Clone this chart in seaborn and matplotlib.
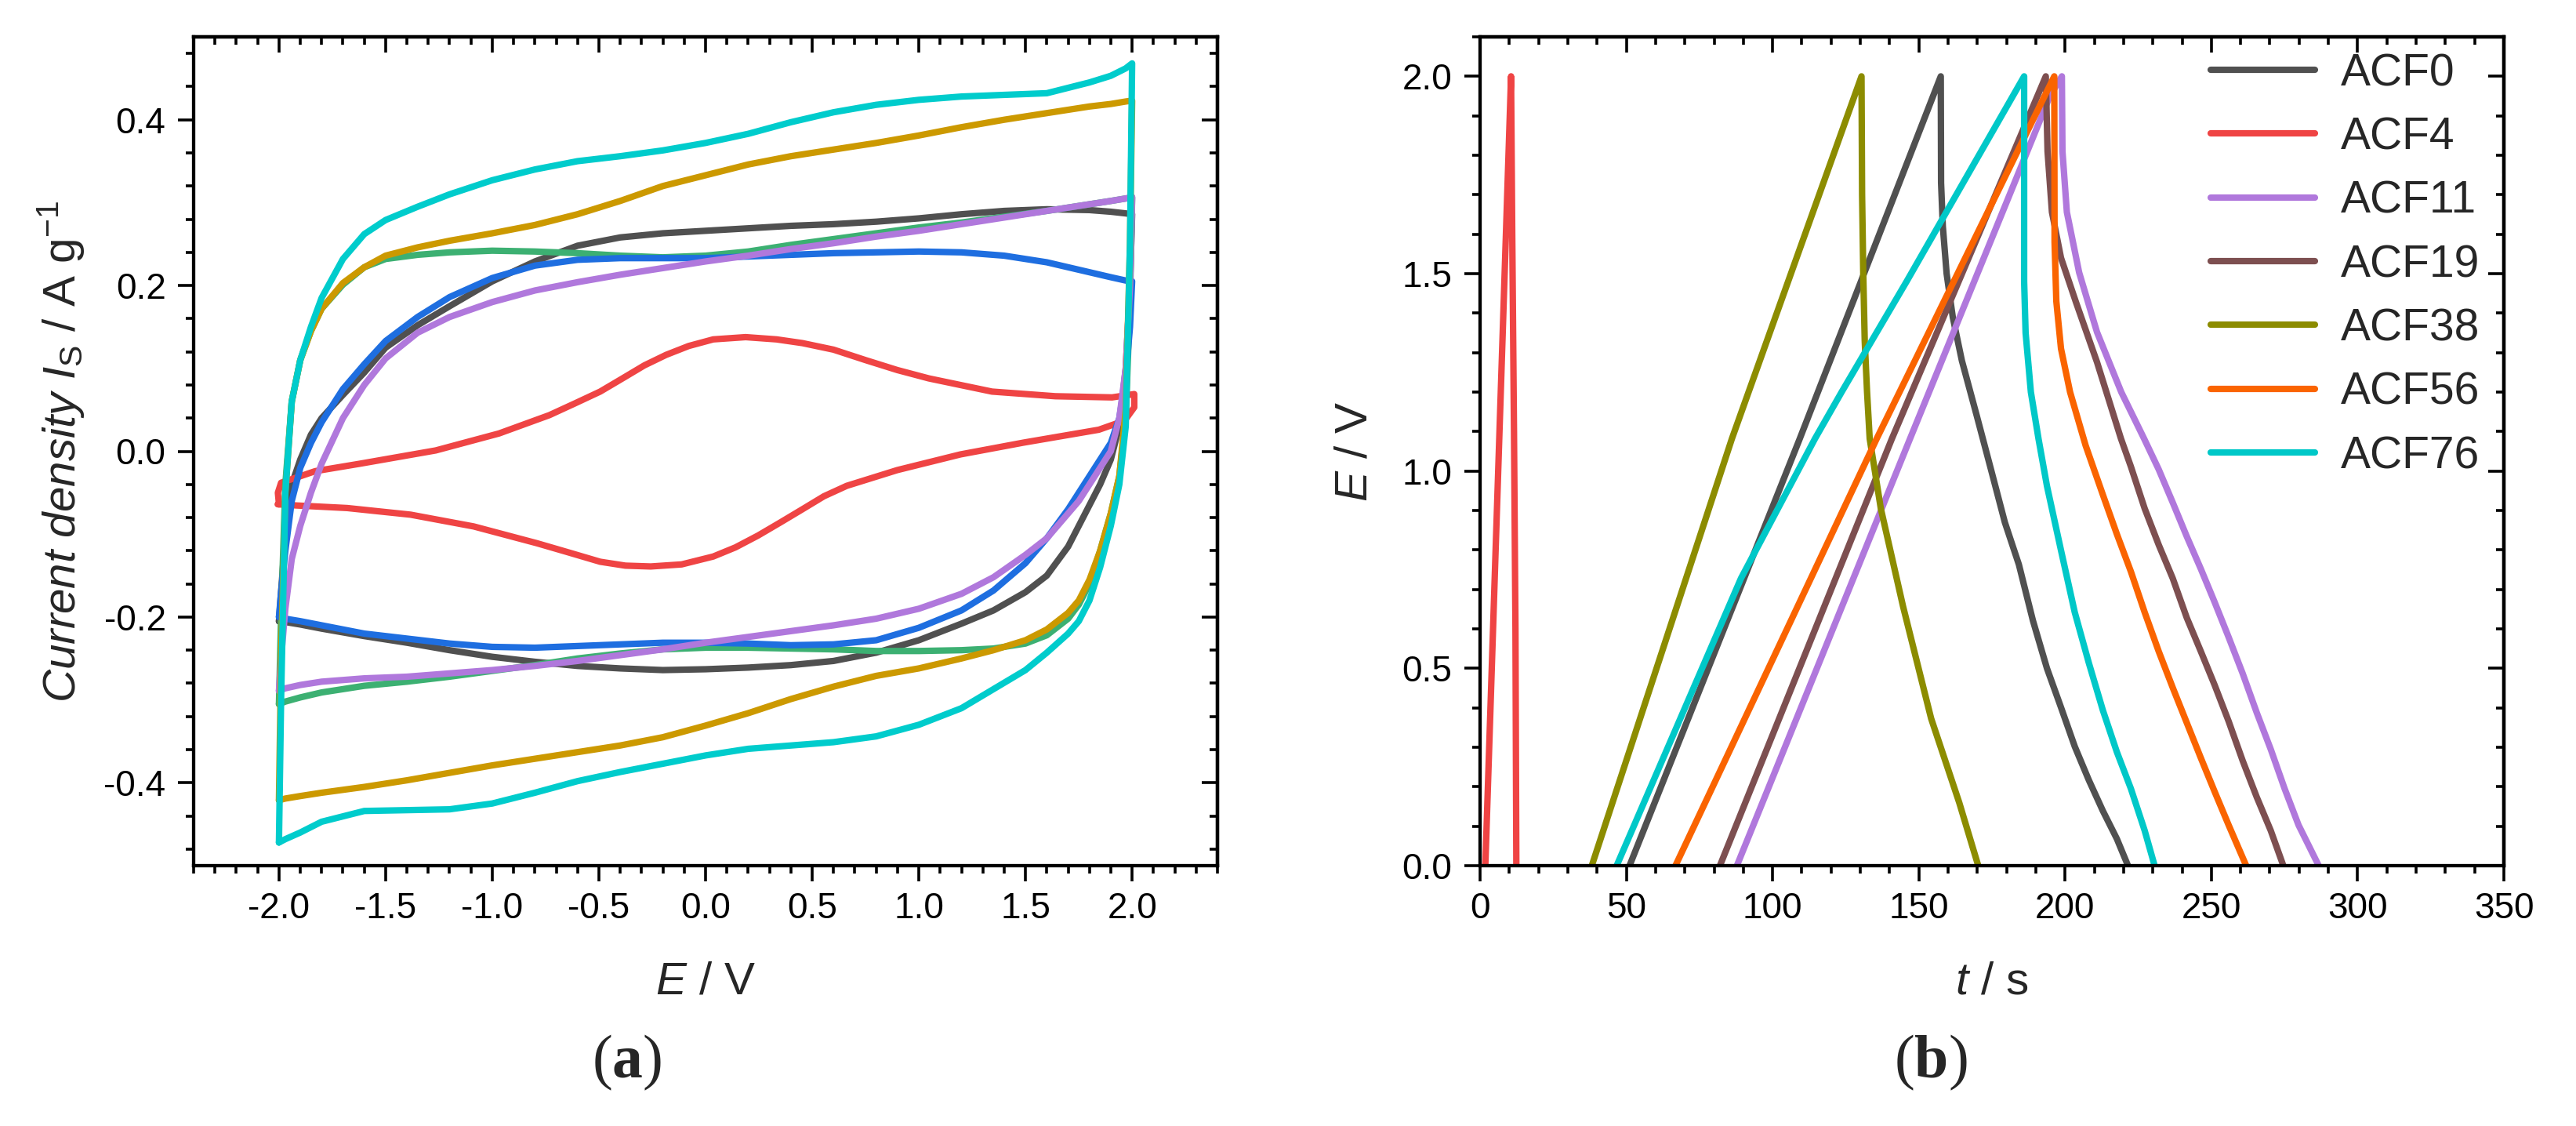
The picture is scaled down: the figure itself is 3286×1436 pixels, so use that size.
import numpy as np
import pandas as pd
import matplotlib
matplotlib.use("Agg")
import matplotlib.pyplot as plt
import seaborn as sns
from matplotlib.ticker import MultipleLocator, FormatStrFormatter

# ---------------- Panel (a): cyclic voltammograms ----------------
E_FWD = [-2.0, -1.99, -1.97, -1.94, -1.9, -1.85, -1.8, -1.7, -1.6, -1.5, -1.35, -1.2, -1.0, -0.8, -0.6,
         -0.4, -0.2, 0.0, 0.2, 0.4, 0.6, 0.8, 1.0, 1.2, 1.4, 1.6, 1.8, 1.9, 1.97, 2.0]
E_REV = [2.0, 1.99, 1.97, 1.94, 1.9, 1.85, 1.8, 1.75, 1.7, 1.6, 1.5, 1.35, 1.2, 1.0, 0.8, 0.6, 0.4, 0.2,
         0.0, -0.2, -0.4, -0.6, -0.8, -1.0, -1.2, -1.4, -1.6, -1.8, -1.9, -1.97, -2.0]

CV_GRAY_FWD = [-0.205, -0.17, -0.10, -0.04, -0.01, 0.02, 0.04, 0.068, 0.095, 0.125, 0.152, 0.175, 0.205, 0.229, 0.248,
               0.258, 0.263, 0.266, 0.269, 0.272, 0.274, 0.277, 0.281, 0.286, 0.290, 0.292, 0.291, 0.289, 0.287, 0.286]
CV_GRAY_REV = [0.286, 0.20, 0.10, 0.03, -0.01, -0.04, -0.065, -0.09, -0.115, -0.150, -0.170, -0.192, -0.208, -0.228,
               -0.243, -0.253, -0.258, -0.261, -0.263, -0.264, -0.262, -0.259, -0.254, -0.248, -0.240, -0.231, -0.223,
               -0.214, -0.209, -0.206, -0.205]

# red loop has its own, denser potential grid
E_RED_FWD = [-2.0, -2.005, -1.99, -1.83, -1.62, -1.265, -0.968, -0.732, -0.612, -0.494, -0.39, -0.287, -0.185, -0.079,
             0.036, 0.188, 0.333, 0.454, 0.6, 0.75, 0.899, 1.047, 1.343, 1.64, 1.906, 2.01]
CV_RED_FWD = [-0.064, -0.050, -0.038, -0.024, -0.015, 0.001, 0.0215, 0.0436, 0.0578, 0.072, 0.0878, 0.1036, 0.1163,
              0.127, 0.135, 0.1377, 0.135, 0.1305, 0.1226, 0.110, 0.098, 0.0879, 0.072, 0.0664, 0.065, 0.069]
E_RED_REV = [2.01, 2.01, 1.965, 1.844, 1.49, 1.195, 0.899, 0.662, 0.555, 0.454, 0.35, 0.246, 0.14, 0.036, -0.112,
             -0.257, -0.376, -0.494, -0.643, -0.79, -1.087, -1.383, -1.68, -1.918, -2.006]
CV_RED_REV = [0.069, 0.053, 0.037, 0.026, 0.0104, -0.0038, -0.0227, -0.0417, -0.0543, -0.070, -0.086, -0.1017,
              -0.116, -0.127, -0.1365, -0.139, -0.138, -0.1333, -0.122, -0.111, -0.0907, -0.0765, -0.0685, -0.0654,
              -0.064]

CV_GREEN_FWD = [-0.305, -0.20, -0.04, 0.06, 0.11, 0.145, 0.172, 0.201, 0.222, 0.232, 0.237, 0.240, 0.242, 0.241, 0.239,
                0.236, 0.234, 0.236, 0.241, 0.249, 0.256, 0.263, 0.270, 0.276, 0.283, 0.290, 0.298, 0.302, 0.305, 0.306]
CV_GREEN_REV = [0.306, 0.18, 0.04, -0.03, -0.075, -0.12, -0.16, -0.185, -0.202, -0.222, -0.232, -0.238, -0.240, -0.241,
                -0.241, -0.239, -0.238, -0.237, -0.237, -0.239, -0.244, -0.250, -0.258, -0.265, -0.272, -0.278, -0.283,
                -0.291, -0.297, -0.302, -0.305]

CV_BLUE_FWD = [-0.200, -0.17, -0.12, -0.06, -0.02, 0.01, 0.035, 0.075, 0.105, 0.133, 0.162, 0.186, 0.209, 0.224, 0.231,
               0.233, 0.233, 0.233, 0.235, 0.237, 0.239, 0.240, 0.241, 0.240, 0.236, 0.228, 0.216, 0.210, 0.206, 0.205]
CV_BLUE_REV = [0.205, 0.15, 0.09, 0.04, 0.01, -0.01, -0.03, -0.05, -0.07, -0.105, -0.135, -0.168, -0.192, -0.213, -0.228,
               -0.233, -0.234, -0.232, -0.231, -0.231, -0.233, -0.235, -0.237, -0.236, -0.232, -0.226, -0.220, -0.210,
               -0.205, -0.202, -0.200]

CV_PURPLE_FWD = [-0.289, -0.25, -0.19, -0.13, -0.09, -0.05, -0.015, 0.04, 0.08, 0.112, 0.143, 0.162, 0.180, 0.194, 0.204,
                 0.213, 0.221, 0.229, 0.236, 0.244, 0.251, 0.259, 0.266, 0.274, 0.282, 0.290, 0.298, 0.302, 0.305, 0.307]
CV_PURPLE_REV = [0.307, 0.20, 0.10, 0.04, 0.0, -0.02, -0.04, -0.06, -0.075, -0.105, -0.125, -0.152, -0.172, -0.190, -0.202,
                 -0.210, -0.217, -0.224, -0.231, -0.239, -0.246, -0.253, -0.259, -0.264, -0.268, -0.272, -0.274, -0.278,
                 -0.282, -0.286, -0.289]

CV_GOLD_FWD = [-0.421, -0.25, -0.05, 0.06, 0.11, 0.145, 0.172, 0.203, 0.222, 0.236, 0.246, 0.254, 0.263, 0.273, 0.286,
               0.302, 0.320, 0.333, 0.346, 0.356, 0.364, 0.372, 0.381, 0.391, 0.400, 0.408, 0.416, 0.419, 0.422, 0.423]
CV_GOLD_REV = [0.423, 0.25, 0.05, -0.03, -0.075, -0.12, -0.155, -0.18, -0.195, -0.215, -0.228, -0.240, -0.250, -0.262,
               -0.271, -0.284, -0.299, -0.316, -0.331, -0.345, -0.355, -0.363, -0.371, -0.379, -0.388, -0.397, -0.405,
               -0.412, -0.416, -0.419, -0.421]

CV_CYAN_FWD = [-0.472, -0.30, -0.05, 0.06, 0.11, 0.15, 0.185, 0.232, 0.262, 0.279, 0.295, 0.310, 0.327, 0.340, 0.350,
               0.356, 0.363, 0.372, 0.383, 0.397, 0.409, 0.418, 0.424, 0.428, 0.430, 0.432, 0.445, 0.453, 0.462, 0.468]
CV_CYAN_REV = [0.468, 0.25, 0.03, -0.04, -0.09, -0.14, -0.18, -0.205, -0.220, -0.243, -0.264, -0.287, -0.310, -0.330,
               -0.344, -0.351, -0.355, -0.359, -0.367, -0.377, -0.387, -0.398, -0.412, -0.425, -0.432, -0.433, -0.434,
               -0.447, -0.460, -0.468, -0.472]

CV_ORDER = ["gray", "red", "green", "blue", "purple", "gold", "cyan"]
CV_COLORS = {"gray": "#505050", "red": "#EF4444", "green": "#3CB072", "blue": "#1E6EE0",
             "purple": "#B078DC", "gold": "#CC9900", "cyan": "#00CCCC"}
CV_DATA = {"gray": (E_FWD, CV_GRAY_FWD, E_REV, CV_GRAY_REV),
           "red": (E_RED_FWD, CV_RED_FWD, E_RED_REV, CV_RED_REV),
           "green": (E_FWD, CV_GREEN_FWD, E_REV, CV_GREEN_REV),
           "blue": (E_FWD, CV_BLUE_FWD, E_REV, CV_BLUE_REV),
           "purple": (E_FWD, CV_PURPLE_FWD, E_REV, CV_PURPLE_REV),
           "gold": (E_FWD, CV_GOLD_FWD, E_REV, CV_GOLD_REV),
           "cyan": (E_FWD, CV_CYAN_FWD, E_REV, CV_CYAN_REV)}

# ---------------- Panel (b): galvanostatic charge/discharge ----------------
GCD_LABELS = ["ACF0", "ACF4", "ACF11", "ACF19", "ACF38", "ACF56", "ACF76"]
GCD_COLORS = ["#505050", "#EF4444", "#B078DC", "#7D4F50", "#8C8C00", "#FA6400", "#00C8C8"]

T_ACF0 = [51.1, 109.3, 157.5, 157.6, 158.2, 159.5, 161.6, 164.7, 169.8, 174.8, 179.4, 184.2, 189.0, 193.8, 198.6,
          203.3, 208.1, 212.9, 217.7, 221.5]
E_ACF0 = [0.0, 1.082, 2.0, 1.73, 1.62, 1.50, 1.39, 1.28, 1.14, 1.00, 0.870, 0.763, 0.621, 0.500, 0.401, 0.302, 0.217,
          0.139, 0.068, 0.0]

T_ACF4 = [1.8, 10.6, 11.0, 11.6, 12.1, 12.4]
E_ACF4 = [0.0, 2.0, 1.6, 1.1, 0.6, 0.0]

T_ACF11 = [87.8, 147.0, 194.8, 198.9, 199.1, 200.6, 204.8, 210.9, 219.2, 227.0, 232.0, 236.8, 241.6, 246.4, 251.1,
           255.9, 260.7, 265.5, 270.3, 275.0, 279.8, 286.7]
E_ACF11 = [0.0, 1.082, 1.95, 2.0, 1.81, 1.656, 1.503, 1.352, 1.2, 1.082, 1.004, 0.920, 0.834, 0.752, 0.668, 0.579,
           0.487, 0.388, 0.295, 0.196, 0.103, 0.0]

T_ACF19 = [82.0, 140.8, 193.4, 194.0, 195.5, 198.6, 203.7, 210.9, 219.1, 222.5, 227.2, 232.0, 236.8, 241.6, 246.4,
           251.1, 255.9, 260.7, 265.5, 270.3, 274.6]
E_ACF19 = [0.0, 1.082, 2.0, 1.81, 1.656, 1.54, 1.428, 1.276, 1.082, 1.011, 0.905, 0.813, 0.728, 0.628, 0.543, 0.458,
           0.366, 0.266, 0.174, 0.089, 0.0]

T_ACF38 = [38.2, 86.1, 130.4, 130.6, 131.0, 131.5, 132.3, 133.2, 137.0, 144.6, 154.2, 163.8, 170.3]
E_ACF38 = [0.0, 1.082, 2.0, 1.7, 1.50, 1.33, 1.2, 1.082, 0.905, 0.657, 0.373, 0.160, 0.0]

T_ACF56 = [66.8, 135.6, 196.3, 196.4, 197.0, 198.6, 201.7, 207.0, 212.9, 217.7, 222.5, 227.2, 232.0, 236.8, 241.6,
           246.4, 251.1, 255.9, 261.9]
E_ACF56 = [0.0, 1.082, 2.0, 1.58, 1.43, 1.31, 1.2, 1.065, 0.940, 0.840, 0.745, 0.642, 0.543, 0.451, 0.362, 0.273,
           0.188, 0.103, 0.0]

T_ACF76 = [46.7, 89.2, 114.5, 123.6, 145.8, 186.0, 186.0, 186.5, 188.3, 190.9, 193.8, 198.6, 203.3, 208.1, 212.9,
           217.7, 222.5, 227.2, 230.6]
E_ACF76 = [0.0, 0.728, 1.082, 1.20, 1.48, 2.0, 1.48, 1.35, 1.2, 1.082, 0.962, 0.799, 0.642, 0.514, 0.394, 0.288,
           0.195, 0.089, 0.0]

GCD_DATA = {"ACF0": (T_ACF0, E_ACF0), "ACF4": (T_ACF4, E_ACF4), "ACF11": (T_ACF11, E_ACF11),
            "ACF19": (T_ACF19, E_ACF19), "ACF38": (T_ACF38, E_ACF38), "ACF56": (T_ACF56, E_ACF56),
            "ACF76": (T_ACF76, E_ACF76)}

# ---------------- build tidy frames ----------------
cv_rows = []
for key in CV_ORDER:
    ef, i_f, er, i_r = CV_DATA[key]
    for e, i in zip(list(ef) + list(er), list(i_f) + list(i_r)):
        cv_rows.append({"E": e, "I": i, "curve": key})
df_cv = pd.DataFrame(cv_rows)

gcd_rows = []
for lab in GCD_LABELS:
    tt, ee = GCD_DATA[lab]
    for t, e in zip(tt, ee):
        gcd_rows.append({"t": t, "E": e, "sample": lab})
df_gcd = pd.DataFrame(gcd_rows)

# ---------------- style ----------------
sns.set_theme(style="ticks")
plt.rcParams["font.family"] = ["Liberation Sans", "DejaVu Sans"]
plt.rcParams.update({
    "axes.unicode_minus": False,
    "mathtext.fontset": "custom",
    "mathtext.rm": "Liberation Sans",
    "mathtext.it": "Liberation Sans:italic",
    "mathtext.bf": "Liberation Serif:bold",
    "axes.edgecolor": "black",
    "xtick.color": "black",
    "ytick.color": "black",
    "lines.solid_joinstyle": "round",
    "lines.solid_capstyle": "round",
})

W, H = 3287, 1436
fig = plt.figure(figsize=(W / 100, H / 100), dpi=100)
AX_B, AX_T = 1104, 47
axh = (AX_B - AX_T) / H
ax1 = fig.add_axes([247 / W, 1 - AX_B / H, 1306 / W, axh])
ax2 = fig.add_axes([1888 / W, 1 - AX_B / H, 1306 / W, axh])

LW = 5.9
SW = 3.1
TW = 2.6
MAJ, MIN = 14.5, 7.5
TICK_FS = 33
LABEL_FS = 42

sns.lineplot(data=df_cv, x="E", y="I", hue="curve", hue_order=CV_ORDER, palette=CV_COLORS,
             sort=False, estimator=None, linewidth=LW, legend=False, ax=ax1)
sns.lineplot(data=df_gcd, x="t", y="E", hue="sample", hue_order=GCD_LABELS,
             palette=dict(zip(GCD_LABELS, GCD_COLORS)),
             sort=False, estimator=None, linewidth=LW, legend=False, ax=ax2)


def style(ax, xlim, ylim, xmaj, xmin, ymaj, ymin, xfmt, yfmt):
    ax.set_xlim(*xlim)
    ax.set_ylim(*ylim)
    for s in ax.spines.values():
        s.set_linewidth(SW)
        s.set_color("black")
    ax.xaxis.set_major_locator(MultipleLocator(xmaj))
    ax.xaxis.set_minor_locator(MultipleLocator(xmin))
    ax.yaxis.set_major_locator(MultipleLocator(ymaj))
    ax.yaxis.set_minor_locator(MultipleLocator(ymin))
    ax.xaxis.set_major_formatter(FormatStrFormatter(xfmt))
    ax.yaxis.set_major_formatter(FormatStrFormatter(yfmt))
    ax.tick_params(which="both", direction="out", top=False, right=False, width=TW, color="black")
    ax.tick_params(which="major", length=MAJ, labelsize=TICK_FS)
    ax.tick_params(which="minor", length=MIN)
    ax.tick_params(axis="x", which="major", pad=9)
    ax.tick_params(axis="y", which="major", pad=11)
    top = ax.secondary_xaxis("top")
    top.xaxis.set_major_locator(MultipleLocator(xmaj))
    top.xaxis.set_minor_locator(MultipleLocator(xmin))
    top.tick_params(which="both", direction="in", labeltop=False, width=TW, color="black")
    top.tick_params(which="major", length=MAJ)
    top.tick_params(which="minor", length=MIN)
    top.spines["top"].set_linewidth(SW)
    right = ax.secondary_yaxis("right")
    right.yaxis.set_major_locator(MultipleLocator(ymaj))
    right.yaxis.set_minor_locator(MultipleLocator(ymin))
    right.tick_params(which="both", direction="in", labelright=False, width=TW, color="black")
    right.tick_params(which="major", length=MAJ)
    right.tick_params(which="minor", length=MIN)
    right.spines["right"].set_linewidth(SW)


style(ax1, (-2.4, 2.4), (-0.5, 0.5), 0.5, 0.1, 0.2, 0.04, "%.1f", "%.1f")
style(ax2, (0, 350), (0, 2.1), 50, 10, 0.5, 0.1, "%d", "%.1f")

ax1.set_xlabel(r"$\mathit{E}$ / V", fontsize=LABEL_FS, labelpad=32)
ax1.set_ylabel(r"$\mathit{Current\ density\ I}_{\mathrm{S}}$ / A $\mathrm{g}^{-1}$", fontsize=LABEL_FS,
               labelpad=16)
ax2.set_xlabel(r"$\mathit{t}$ / s", fontsize=LABEL_FS, labelpad=32)
ax2.set_ylabel(r"$\mathit{E}$ / V", fontsize=LABEL_FS, labelpad=24)

ax2.legend(ax2.get_lines()[:len(GCD_LABELS)], GCD_LABELS, loc="upper left",
           bbox_to_anchor=(0.7136, 0.981), frameon=False, fontsize=41, borderpad=0,
           borderaxespad=0, handlelength=2.33, handletextpad=0.58, labelspacing=0.48)

fig.text(800 / W, 1 - 1355 / H, r"($\mathbf{a}$)", fontsize=56, family="Liberation Serif",
         ha="center", va="center")
fig.text(2463 / W, 1 - 1355 / H, r"($\mathbf{b}$)", fontsize=56, family="Liberation Serif",
         ha="center", va="center")

fig.savefig("out.png", dpi=100)
